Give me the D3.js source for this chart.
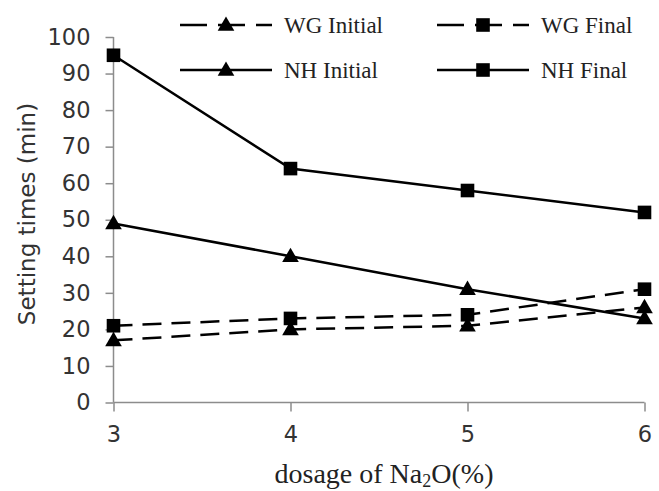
<!DOCTYPE html>
<html><head><meta charset="utf-8">
<script src="https://cdn.jsdelivr.net/npm/d3@7"></script>
<style>body{margin:0;background:#fff}</style>
</head><body>
<svg id="chart" width="659" height="491"></svg>
<script>
const dosages = [3, 4, 5, 6];
const wgInitial = [17, 20, 21, 26];
const wgFinal = [21, 23, 24, 31];
const nhInitial = [49, 40, 31, 23];
const nhFinal = [95, 64, 58, 52];
const yTicks = [0,10,20,30,40,50,60,70,80,90,100];
const seriesNames = ["WG Initial", "WG Final", "NH Initial", "NH Final"];

const series = [
  {name: seriesNames[0], values: wgInitial, dashed: true, marker: "tri"},
  {name: seriesNames[1], values: wgFinal, dashed: true, marker: "sq"},
  {name: seriesNames[2], values: nhInitial, dashed: false, marker: "tri"},
  {name: seriesNames[3], values: nhFinal, dashed: false, marker: "sq"}
];

const svg = d3.select("#chart");
const x = d3.scaleLinear().domain([3, 6]).range([113.5, 644.5]);
const y = d3.scaleLinear().domain([0, 100]).range([402.5, 37]);
const axisColor = "#8c8c8c";
const sans = "'DejaVu Sans', Verdana, sans-serif";
const serif = "'Liberation Serif', 'Times New Roman', serif";

const yAxis = svg.append("g").attr("transform", `translate(${x(3)},0)`)
  .call(d3.axisLeft(y).tickValues(yTicks).tickSize(8).tickPadding(15).tickSizeOuter(0));
const xAxis = svg.append("g").attr("transform", `translate(0,${y(0)})`)
  .call(d3.axisBottom(x).tickValues(dosages).tickSize(9).tickPadding(15).tickFormat(d3.format("d")).tickSizeOuter(0));
[yAxis, xAxis].forEach(g => {
  g.selectAll("path,line").attr("stroke", axisColor).attr("stroke-width", 1.5);
  g.selectAll("text").attr("font-family", sans).attr("font-size", 22.5).attr("fill", "#333");
});
yAxis.select(".domain").remove();
svg.append("line").attr("x1", x(3)).attr("x2", x(3)).attr("y1", y(100)).attr("y2", y(0))
  .attr("stroke", axisColor).attr("stroke-width", 1.5);
xAxis.select(".domain").remove();
svg.append("line").attr("x1", x(3)).attr("x2", x(6)).attr("y1", y(0)).attr("y2", y(0))
  .attr("stroke", axisColor).attr("stroke-width", 1.5);

svg.append("text").attr("transform", "translate(28,214) rotate(-90)")
  .attr("text-anchor", "middle").attr("dominant-baseline", "middle")
  .attr("font-family", sans).attr("font-size", 23).attr("fill", "#333")
  .text("Setting times (min)");
const xt = svg.append("text").attr("x", 384).attr("y", 483).attr("text-anchor", "middle")
  .attr("font-family", serif).attr("font-size", 28).attr("fill", "#222");
xt.append("tspan").text("dosage of  Na");
xt.append("tspan").attr("font-size", 18).attr("dy", 4).text("2");
xt.append("tspan").attr("dy", -4).text("O(%)");

const line = d3.line().x((d, i) => x(dosages[i])).y(d => y(d));
const tri = d3.symbol().type(d3.symbolTriangle).size(120);
const sq = d3.symbol().type(d3.symbolSquare).size(185);

function drawMarker(g, type, cx, cy) {
  g.append("path").attr("d", type === "tri" ? tri() : sq())
    .attr("transform", `translate(${cx},${cy + (type === "tri" ? 1 : 0)})`).attr("fill", "#000");
}

series.forEach(s => {
  svg.append("path").datum(s.values).attr("d", line).attr("fill", "none")
    .attr("stroke", "#000").attr("stroke-width", 2.5)
    .attr("stroke-dasharray", s.dashed ? "19,10" : null);
  const g = svg.append("g");
  s.values.forEach((v, i) => drawMarker(g, s.marker, x(dosages[i]), y(v)));
});

const legendPos = [[180, 25], [437, 25], [180, 70], [437, 70]];
series.forEach((s, i) => {
  const [lx, ly] = legendPos[i];
  const g = svg.append("g");
  g.append("line").attr("x1", lx).attr("x2", lx + 92).attr("y1", ly).attr("y2", ly)
    .attr("stroke", "#000").attr("stroke-width", 2.5)
    .attr("stroke-dasharray", s.dashed ? "27,11" : null);
  drawMarker(g, s.marker, lx + 46, ly);
  g.append("text").attr("x", lx + 104).attr("y", ly).attr("dominant-baseline", "central")
    .attr("font-family", serif).attr("font-size", 23).attr("fill", "#222").text(s.name);
});
</script>
</body></html>
